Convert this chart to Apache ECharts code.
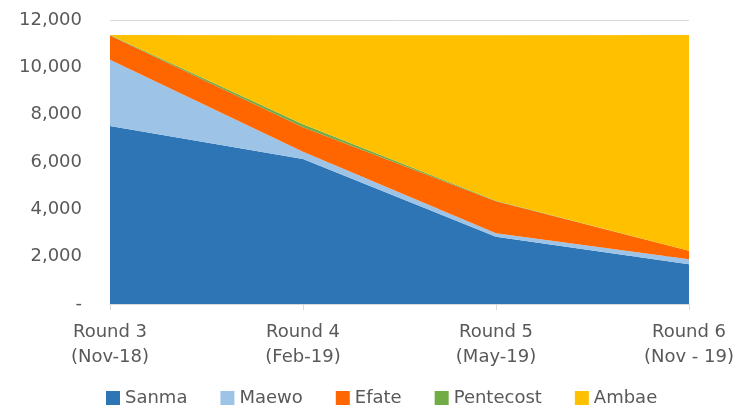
<!DOCTYPE html>
<html><head><meta charset="utf-8">
<script src="https://cdn.jsdelivr.net/npm/echarts@6/dist/echarts.min.js"></script>
<style>html,body{margin:0;padding:0;background:#fff}#c{width:737px;height:407px}</style>
</head><body><div id="c"></div>
<script>
const categories = ['Round 3\n(Nov-18)', 'Round 4\n(Feb-19)', 'Round 5\n(May-19)', 'Round 6\n(Nov - 19)'];
const sanma = [7520, 6130, 2840, 1680];
const maewo = [2800, 300, 145, 210];
const efate = [1030, 1040, 1360, 365];
const pentecost = [20, 130, 15, 0];
const ambae = [0, 3760, 7000, 9110];
const seriesNames = ['Sanma', 'Maewo', 'Efate', 'Pentecost', 'Ambae'];
const colors = ['#2E75B6', '#9DC3E6', '#FF6600', '#70AD47', '#FFC000'];
const yTicks = { min: 0, max: 12000, interval: 2000 };

const dataSets = [sanma, maewo, efate, pentecost, ambae];
const chart = echarts.init(document.getElementById('c'));
const font = '"DejaVu Sans", sans-serif';
chart.setOption({
  animation: false,
  grid: { left: 110, right: 46, top: 20, bottom: 103 },
  legend: {
    bottom: 0, left: 106, padding: 0, itemWidth: 14, itemHeight: 14, itemGap: 33, icon: 'rect',
    textStyle: { fontSize: 18, color: '#595959', fontFamily: font },
    data: seriesNames
  },
  xAxis: {
    type: 'category', boundaryGap: false, data: categories,
    axisLine: { lineStyle: { color: '#d9d9d9', width: 1 } },
    axisTick: { show: true, alignWithLabel: true, length: 6, lineStyle: { color: '#d9d9d9' } },
    axisLabel: { fontSize: 18, color: '#595959', fontFamily: font, lineHeight: 25, margin: 16 }
  },
  yAxis: {
    type: 'value', min: yTicks.min, max: yTicks.max, interval: yTicks.interval,
    axisLine: { show: false }, axisTick: { show: false },
    splitLine: { lineStyle: { color: '#d9d9d9', width: 1 } },
    axisLabel: {
      fontSize: 18, color: '#595959', fontFamily: font, margin: 28,
      formatter: v => v === 0 ? '-' : v.toLocaleString('en-US')
    }
  },
  series: seriesNames.map((n, i) => ({
    name: n, type: 'line', stack: 'total', data: dataSets[i],
    symbol: 'none', lineStyle: { width: 0 },
    itemStyle: { color: colors[i] },
    areaStyle: { color: colors[i], opacity: 1 }
  }))
});
</script></body></html>
